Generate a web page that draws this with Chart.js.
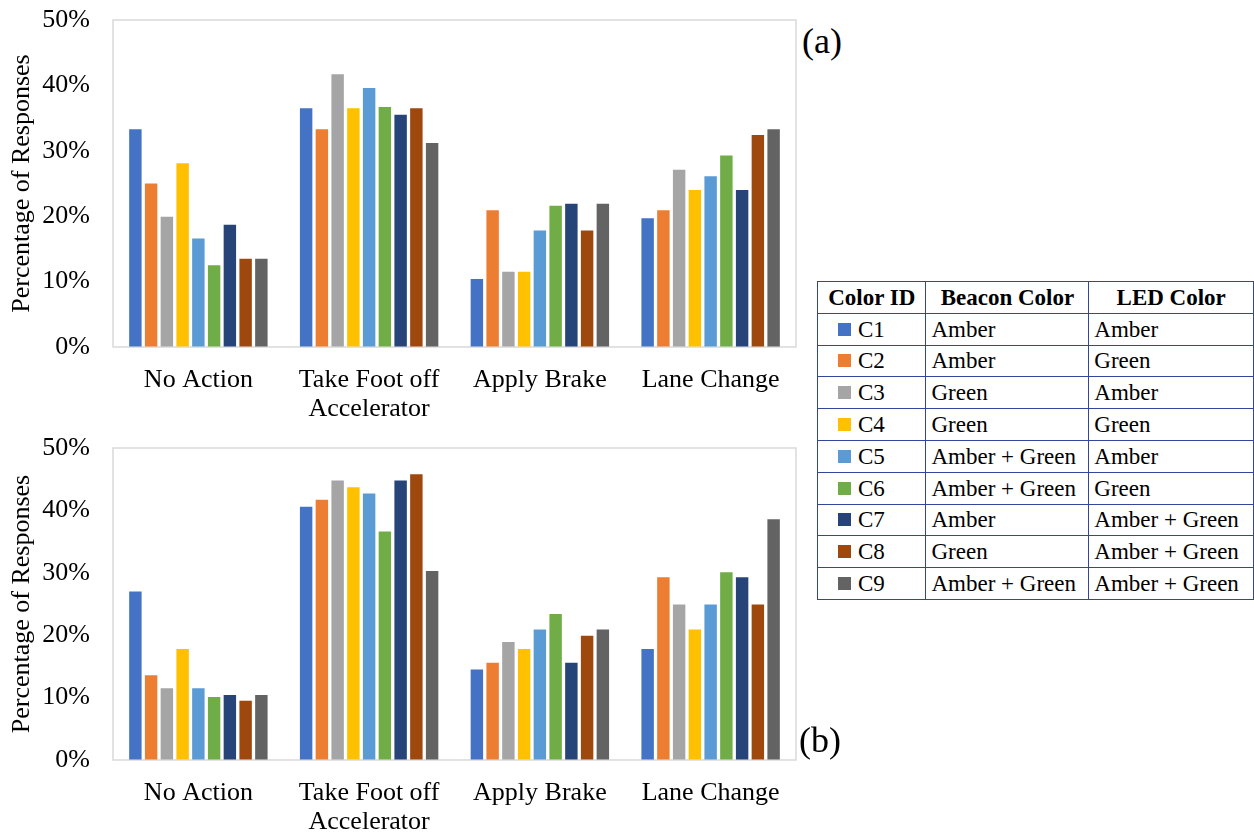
<!DOCTYPE html>
<html>
<head>
<meta charset="utf-8">
<script src="https://cdn.jsdelivr.net/npm/chart.js@4"></script>
<style>
  body { margin: 0; background: #fff; width: 1254px; height: 835px; overflow: hidden; position: relative; font-family: "Liberation Serif", "Times New Roman", serif; color: #000; }
  .chartBox { position: absolute; left: 0; width: 800px; }
  #boxA { top: 0; height: 422px; }
  #boxB { top: 428px; height: 407px; }
  .tag { position: absolute; font-size: 36px; line-height: 1; }
  #legendTable { position: absolute; left: 817px; top: 281px; border-collapse: collapse; font-size: 23px; table-layout: fixed; }
  #legendTable td, #legendTable th { border: 1px solid #34469b; padding: 0 5px; white-space: nowrap; line-height: 1; }
  #legendTable tr { height: 31.8px; }
  #legendTable th { font-weight: bold; text-align: center; }
  #legendTable td.id { padding-left: 20px; }
  .swatch { display: inline-block; width: 13px; height: 13px; margin-right: 7px; vertical-align: 1px; }
</style>
</head>
<body>
<div class="chartBox" id="boxA"><canvas id="chartA"></canvas></div>
<div class="chartBox" id="boxB"><canvas id="chartB"></canvas></div>
<div class="tag" style="left:802px; top:23px;">(a)</div>
<div class="tag" style="left:799px; top:722px;">(b)</div>
<table id="legendTable"></table>
<script>
// categories and legend
const categories = ['No Action', ['Take Foot off', 'Accelerator'], 'Apply Brake', 'Lane Change'];
const colorIds = ['C1', 'C2', 'C3', 'C4', 'C5', 'C6', 'C7', 'C8', 'C9'];
const beaconColors = ['Amber', 'Amber', 'Green', 'Green', 'Amber + Green', 'Amber + Green', 'Amber', 'Green', 'Amber + Green'];
const ledColors = ['Amber', 'Green', 'Amber', 'Green', 'Amber', 'Green', 'Amber + Green', 'Amber + Green', 'Amber + Green'];
const seriesColors = ['#4472C4', '#ED7D31', '#A5A5A5', '#FFC000', '#5B9BD5', '#70AD47', '#264478', '#9E480E', '#636363'];

// panel (a) - percentage of responses per color id
const aC1 = [33.3, 36.5, 10.4, 19.7];
const aC2 = [25.0, 33.3, 20.9, 20.9];
const aC3 = [19.9, 41.7, 11.5, 27.1];
const aC4 = [28.1, 36.5, 11.5, 24.0];
const aC5 = [16.6, 39.6, 17.8, 26.1];
const aC6 = [12.5, 36.7, 21.6, 29.3];
const aC7 = [18.7, 35.5, 21.9, 24.0];
const aC8 = [13.5, 36.5, 17.8, 32.4];
const aC9 = [13.5, 31.2, 21.9, 33.3];

// panel (b)
const bC1 = [27.0, 40.6, 14.5, 17.8];
const bC2 = [13.6, 41.7, 15.6, 29.3];
const bC3 = [11.5, 44.8, 18.9, 24.9];
const bC4 = [17.8, 43.7, 17.8, 20.9];
const bC5 = [11.5, 42.7, 20.9, 24.9];
const bC6 = [10.1, 36.6, 23.4, 30.1];
const bC7 = [10.4, 44.8, 15.6, 29.3];
const bC8 = [9.5, 45.8, 19.9, 24.9];
const bC9 = [10.4, 30.3, 20.9, 38.6];

const valuesA = [aC1, aC2, aC3, aC4, aC5, aC6, aC7, aC8, aC9];
const valuesB = [bC1, bC2, bC3, bC4, bC5, bC6, bC7, bC8, bC9];

const yMax = 50;
const yStep = 10;

// light grey box round the plot area
const plotBox = {
    id: 'plotBox',
    beforeDatasetsDraw(chart) {
        const { ctx, chartArea: a } = chart;
        ctx.save();
        ctx.strokeStyle = '#d9d9d9';
        ctx.lineWidth = 1.5;
        ctx.strokeRect(a.left, a.top, a.right - a.left, a.bottom - a.top);
        ctx.restore();
    }
};

const serif = 'Liberation Serif';

function makeChart(canvasId, values, xAxisHeight) {
    const ctx = document.getElementById(canvasId).getContext('2d');
    return new Chart(ctx, {
        type: 'bar',
        data: {
            labels: categories,
            datasets: values.map((v, i) => ({
                label: colorIds[i],
                data: v,
                backgroundColor: seriesColors[i],
                borderWidth: 0,
                categoryPercentage: 0.83,
                barPercentage: 0.79
            }))
        },
        options: {
            responsive: true,
            maintainAspectRatio: false,
            animation: false,
            layout: { padding: { top: 20, right: 4, left: 0, bottom: 0 } },
            plugins: {
                legend: { display: false },
                tooltip: { enabled: false }
            },
            scales: {
                x: {
                    grid: { display: false, drawTicks: false },
                    border: { display: false },
                    ticks: {
                        color: '#000',
                        padding: 19,
                        maxRotation: 0,
                        autoSkip: false,
                        font: { family: serif, size: 26, lineHeight: 1.1 }
                    },
                    afterFit(scale) { scale.height = xAxisHeight; }
                },
                y: {
                    min: 0,
                    max: yMax,
                    // invisible tick marks give the gap between labels and plot
                    grid: { display: true, drawOnChartArea: false, drawTicks: true, tickLength: 23, color: 'rgba(0,0,0,0)' },
                    border: { display: false },
                    ticks: {
                        stepSize: yStep,
                        color: '#000',
                        padding: 0,
                        font: { family: serif, size: 26 },
                        callback: v => v + '%'
                    },
                    title: {
                        display: true,
                        text: 'Percentage of Responses',
                        color: '#000',
                        font: { family: serif, size: 26 },
                        padding: { top: 7, bottom: 0 }
                    },
                    afterFit(scale) { scale.width = 113; }
                }
            }
        },
        plugins: [plotBox]
    });
}

makeChart('chartA', valuesA, 75);
makeChart('chartB', valuesB, 75);

// color table
const table = document.getElementById('legendTable');
let html = '<colgroup><col style="width:110px"><col style="width:164px"><col style="width:166px"></colgroup>';
html += '<tr><th>Color ID</th><th>Beacon Color</th><th>LED Color</th></tr>';
colorIds.forEach((id, i) => {
    html += '<tr><td class="id"><span class="swatch" style="background:' + seriesColors[i] + '"></span>' + id +
        '</td><td>' + beaconColors[i] + '</td><td>' + ledColors[i] + '</td></tr>';
});
table.innerHTML = html;
</script>
</body>
</html>
